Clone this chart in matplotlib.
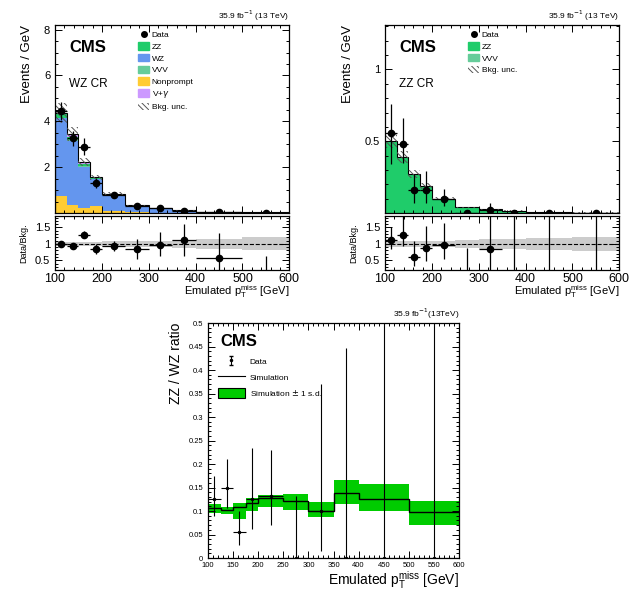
import numpy as np
import matplotlib
matplotlib.use("Agg")
import matplotlib.pyplot as plt
from matplotlib.ticker import MultipleLocator
from matplotlib.patches import Patch
from matplotlib.lines import Line2D

plt.rcParams['font.family'] = ['Liberation Sans', 'DejaVu Sans']
plt.rcParams['hatch.linewidth'] = 0.7

# binning (GeV)
edges = np.array([100, 125, 150, 175, 200, 250, 300, 350, 400, 500, 600])
centers = 0.5 * (edges[:-1] + edges[1:])
halfw = 0.5 * (edges[1:] - edges[:-1])

# WZ control region (events / GeV)
wz_nonprompt = [0.75, 0.33, 0.22, 0.30, 0.10, 0.03, 0.01, 0.005, 0.003, 0.002]
wz_wz = [3.38, 2.83, 1.80, 1.17, 0.68, 0.27, 0.175, 0.103, 0.041, 0.023]
wz_vvv = [0.02, 0.02, 0.02, 0.01, 0.01, 0.005, 0.005, 0.004, 0.002, 0.002]
wz_zz = [0.20, 0.12, 0.10, 0.06, 0.04, 0.02, 0.01, 0.008, 0.004, 0.003]
wz_vg = [0.03, 0.15, 0.08, 0.02, 0.01, 0.005, 0.0, 0.0, 0.0, 0.0]
wz_unc = [0.10, 0.09, 0.08, 0.07, 0.07, 0.08, 0.09, 0.11, 0.14, 0.18]
wz_data = [4.45, 3.25, 2.90, 1.30, 0.80, 0.30, 0.22, 0.10, 0.03, 0.02]
wz_data_err = [0.40, 0.33, 0.35, 0.22, 0.10, 0.05, 0.04, 0.03, 0.01, 0.01]
wz_ratio = [1.00, 0.95, 1.28, 0.85, 0.93, 0.85, 0.97, 1.12, 0.58, 0.0]
wz_ratio_lo = [0.05, 0.07, 0.10, 0.15, 0.15, 0.30, 0.35, 0.50, 0.58, 0.0]
wz_ratio_hi = [0.05, 0.07, 0.10, 0.15, 0.15, 0.30, 0.38, 0.50, 0.75, 0.63]
wz_band = [0.05, 0.06, 0.07, 0.07, 0.08, 0.09, 0.10, 0.12, 0.15, 0.20]

# ZZ control region (events / GeV)
zz_zz = [0.495, 0.386, 0.267, 0.188, 0.098, 0.038, 0.023, 0.014, 0.005, 0.002]
zz_vvv = [0.005, 0.004, 0.003, 0.002, 0.002, 0.002, 0.002, 0.001, 0.001, 0.001]
zz_unc = [0.10, 0.10, 0.10, 0.11, 0.11, 0.13, 0.15, 0.17, 0.19, 0.22]
zz_data = [0.56, 0.48, 0.16, 0.16, 0.095, 0.0, 0.02, 0.0, 0.0, 0.0]
zz_data_lo = [0.22, 0.13, 0.09, 0.09, 0.045, 0.0, 0.02, 0.0, 0.0, 0.0]
zz_data_hi = [0.20, 0.18, 0.11, 0.13, 0.075, 0.02, 0.05, 0.02, 0.01, 0.01]
zz_ratio = [1.12, 1.27, 0.60, 0.87, 0.98, 0.0, 0.86, 0.0, 0.0, 0.0]
zz_ratio_lo = [0.29, 0.32, 0.27, 0.40, 0.43, 0.0, 0.86, 0.0, 0.0, 0.0]
zz_ratio_hi = [0.40, 0.58, 0.48, 0.68, 0.65, 0.88, 2.0, 2.0, 2.0, 2.0]
zz_band = [0.08, 0.08, 0.09, 0.10, 0.10, 0.12, 0.14, 0.16, 0.18, 0.22]

# ZZ / WZ ratio
sim_ratio = [0.107, 0.103, 0.108, 0.118, 0.128, 0.122, 0.100, 0.139, 0.125, 0.097]
sim_lo = [0.096, 0.094, 0.083, 0.100, 0.108, 0.103, 0.087, 0.116, 0.101, 0.071]
sim_hi = [0.114, 0.108, 0.118, 0.127, 0.135, 0.137, 0.119, 0.167, 0.157, 0.122]
dat_ratio = [0.125, 0.148, 0.056, 0.125, 0.131, 0.0, 0.100, 0.0, 0.0, 0.0]
dat_lo = [0.089, 0.107, 0.028, 0.062, 0.071, 0.0, 0.016, 0.0, 0.0, 0.0]
dat_hi = [0.174, 0.210, 0.101, 0.235, 0.230, 0.131, 0.370, 0.446, 0.6, 0.6]

c_zz = '#1fcc6a'
c_wz = '#6496ee'
c_vvv = '#66cc9a'
c_np = '#ffcc33'
c_vg = '#cc99ff'
c_hatch = '#555555'
hatch = '\\' * 6

fig = plt.figure(figsize=(6.42, 5.90), dpi=100)


def style(ax, xminor, yminor):
    ax.tick_params(which='both', direction='in', top=True, right=True, labelsize=8, width=0.7)
    ax.tick_params(which='major', length=5)
    ax.tick_params(which='minor', length=2.5)
    ax.xaxis.set_minor_locator(MultipleLocator(xminor))
    ax.yaxis.set_minor_locator(MultipleLocator(yminor))
    for s in ax.spines.values():
        s.set_linewidth(0.9)


def draw_cr(x0, comps, colors, total, unc, data, dlo, dhi, ratio, rlo, rhi, band,
            ymax, yminor, yticks, label, legend_items):
    w = 0.365
    ax = fig.add_axes([x0, 0.639, w, 0.3186])
    rax = fig.add_axes([x0, 0.542, w, 0.092])
    bottom = np.zeros(len(centers))
    for vals, col in zip(comps, colors):
        vals = np.array(vals)
        ax.stairs(bottom + vals, edges, baseline=bottom, fill=True, color=col, lw=0)
        bottom = bottom + vals
    ax.stairs(total, edges, color='k', lw=0.8)
    ax.stairs(total * (1 + unc), edges, baseline=total * (1 - unc), fill=True,
              facecolor='none', edgecolor=c_hatch, hatch=hatch, lw=0)
    ax.errorbar(centers, data, xerr=halfw, yerr=[dlo, dhi], fmt='o', color='k',
                ms=4.5, elinewidth=0.9, capsize=0, zorder=5)
    ax.set_xlim(100, 600)
    ax.set_ylim(0, ymax)
    ax.set_yticks(yticks)
    style(ax, 20, yminor)
    ax.xaxis.set_major_locator(MultipleLocator(100))
    ax.set_xticklabels([])
    ax.set_ylabel('Events / GeV', fontsize=9.5, loc='top', labelpad=8)
    ax.text(0.06, 0.92, 'CMS', transform=ax.transAxes, fontsize=12, fontweight='bold', va='top')
    ax.text(0.06, 0.72, label, transform=ax.transAxes, fontsize=8.5, va='top')
    ax.text(1.0, 1.012, '35.9 fb$^{-1}$ (13 TeV)', transform=ax.transAxes, ha='right',
            va='bottom', fontsize=6)
    ax.legend(handles=legend_items, loc='upper left', bbox_to_anchor=(0.33, 1.0),
              frameon=False, fontsize=6, handlelength=1.3, handleheight=1.0,
              labelspacing=0.36, borderaxespad=0.3, handletextpad=0.3)

    band = np.array(band)
    rax.stairs(1 + band, edges, baseline=1 - band, fill=True, color='#cccccc', lw=0)
    rax.axhline(1, color='k', ls='--', lw=0.8)
    rax.errorbar(centers, ratio, xerr=halfw, yerr=[rlo, rhi], fmt='o', color='k',
                 ms=4.5, elinewidth=0.9, capsize=0, zorder=5)
    rax.set_xlim(100, 600)
    rax.set_ylim(0.2, 1.85)
    rax.set_yticks([0.5, 1, 1.5])
    rax.set_yticklabels(['0.5', '1', '1.5'])
    style(rax, 20, 0.1)
    rax.xaxis.set_major_locator(MultipleLocator(100))
    rax.tick_params(axis='x', labelsize=9, pad=2)
    rax.set_ylabel('Data/Bkg.', fontsize=6.5, labelpad=5)
    rax.set_xlabel('Emulated p$_\\mathregular{T}^\\mathregular{miss}$ [GeV]', fontsize=8,
                   loc='right', labelpad=-1)
    return ax, rax


def hatch_patch():
    return Patch(facecolor='none', edgecolor=c_hatch, hatch=hatch, lw=0, label='Bkg. unc.')


data_handle = Line2D([], [], marker='o', color='k', ls='none', ms=4, label='Data')

# WZ control region
wz_comps = [wz_nonprompt, wz_wz, wz_vvv, wz_zz, wz_vg]
wz_total = np.sum(np.array(wz_comps), axis=0)
wz_leg = [data_handle, Patch(color=c_zz, label='ZZ'), Patch(color=c_wz, label='WZ'),
          Patch(color=c_vvv, label='VVV'), Patch(color=c_np, label='Nonprompt'),
          Patch(color=c_vg, label='V+$\\gamma$'), hatch_patch()]
ax1, rax1 = draw_cr(0.0857, wz_comps, [c_np, c_wz, c_vvv, c_zz, c_vg], wz_total,
                    np.array(wz_unc), wz_data, wz_data_err, wz_data_err,
                    wz_ratio, wz_ratio_lo, wz_ratio_hi, wz_band,
                    8.2, 0.5, [2, 4, 6, 8], 'WZ CR', wz_leg)

# ZZ control region
zz_comps = [zz_zz, zz_vvv]
zz_total = np.sum(np.array(zz_comps), axis=0)
zz_leg = [data_handle, Patch(color=c_zz, label='ZZ'), Patch(color=c_vvv, label='VVV'),
          hatch_patch()]
ax2, rax2 = draw_cr(0.5997, zz_comps, [c_zz, c_vvv], zz_total, np.array(zz_unc),
                    zz_data, zz_data_lo, zz_data_hi,
                    zz_ratio, zz_ratio_lo, zz_ratio_hi, zz_band,
                    1.31, 0.1, [0.5, 1], 'ZZ CR', zz_leg)
ax2.set_yticklabels(['0.5', '1'])

# ZZ / WZ ratio panel
ax3 = fig.add_axes([0.324, 0.0542, 0.391, 0.3983])
ax3.stairs(sim_hi, edges, baseline=sim_lo, fill=True, color='#00cc00', lw=0)
ax3.stairs(sim_ratio, edges, color='k', lw=1.0, baseline=None)
ax3.errorbar(centers, dat_ratio, xerr=halfw,
             yerr=[np.array(dat_ratio) - np.array(dat_lo), np.array(dat_hi) - np.array(dat_ratio)],
             fmt='o', color='k', ms=1.5, elinewidth=0.8, capsize=0, zorder=5)
# off-axis point only used as legend handle (bar with caps)
data3 = ax3.errorbar([-100], [0.2], yerr=[0.02], fmt='o', color='k', ms=1.5,
                     elinewidth=0.8, capsize=1.5, label='Data')
ax3.set_xlim(100, 600)
ax3.set_ylim(0, 0.5)
ax3.xaxis.set_major_locator(MultipleLocator(50))
ax3.yaxis.set_major_locator(MultipleLocator(0.05))
style(ax3, 10, 0.01)
ax3.tick_params(labelsize=5.5)
ax3.tick_params(axis='x', pad=3)
ax3.set_yticklabels(['0' if abs(t) < 1e-9 else ('%g' % t) for t in ax3.get_yticks()])
ax3.set_ylabel('ZZ / WZ ratio', fontsize=10, loc='top')
ax3.set_xlabel('Emulated p$_\\mathregular{T}^\\mathregular{miss}$ [GeV]', fontsize=10,
               loc='right', labelpad=0)
ax3.text(0.05, 0.955, 'CMS', transform=ax3.transAxes, fontsize=12, fontweight='bold', va='top')
ax3.text(1.0, 1.008, '35.9 fb$^{-1}$(13TeV)', transform=ax3.transAxes, ha='right',
         va='bottom', fontsize=6)
leg3 = [data3,
        Line2D([], [], color='k', lw=0.8, label='Simulation'),
        Patch(facecolor='#00cc00', edgecolor='k', lw=0.8, label='Simulation $\\pm$ 1 s.d.')]
ax3.legend(handles=leg3, loc='upper left', bbox_to_anchor=(0.01, 0.89), frameon=False,
           fontsize=6, handlelength=3.2, handleheight=1.6, labelspacing=0.6,
           handletextpad=0.6)

fig.savefig('out.png', dpi=100)
